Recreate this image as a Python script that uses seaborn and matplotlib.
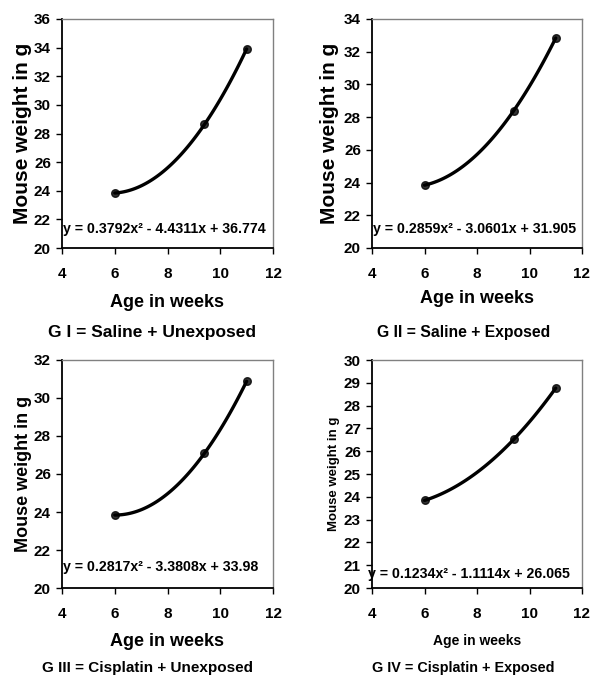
import matplotlib
matplotlib.use('Agg')
import matplotlib.pyplot as plt
import seaborn as sns

# data: age (weeks) and mouse weight (g) per group

age = [6, 9.4, 11]

weight_g1 = [23.84, 28.63, 33.91]
weight_g2 = [23.84, 28.40, 32.84]
weight_g3 = [23.84, 27.09, 30.88]
weight_g4 = [23.84, 26.52, 28.77]

equations = [
    'y = 0.3792x\u00b2 - 4.4311x + 36.774',
    'y = 0.2859x\u00b2 - 3.0601x + 31.905',
    'y = 0.2817x\u00b2 - 3.3808x + 33.98',
    'y = 0.1234x\u00b2 - 1.1114x + 26.065',
]

captions = [
    'G I = Saline + Unexposed',
    'G II = Saline + Exposed',
    'G III = Cisplatin + Unexposed',
    'G IV = Cisplatin + Exposed',
]

y_ranges = [(20, 36, 2), (20, 34, 2), (20, 32, 2), (20, 30, 1)]

sns.set_style('ticks')
plt.rcParams['font.family'] = ['Liberation Sans', 'DejaVu Sans']
plt.rcParams['font.weight'] = 'bold'
plt.rcParams['text.color'] = 'black'
plt.rcParams['axes.labelcolor'] = 'black'
plt.rcParams['xtick.color'] = 'black'
plt.rcParams['ytick.color'] = 'black'

W, H = 590, 677
fig = plt.figure(figsize=(W / 100, H / 100), dpi=100)


def px_axes(left, top, right, bottom):
    return fig.add_axes([left / W, 1 - bottom / H, (right - left) / W, (bottom - top) / H])


panels = [
    # axes box, equation pos, label sizes, caption pos/size
    dict(box=(62, 19, 273, 248), eq=(4.02, 21.35), yl=15, ypad=1, xl=13, xpad=9,
         cap=(152, 333), cs=12.5, w=weight_g1),
    dict(box=(372, 19, 582, 248), eq=(4.02, 21.15), yl=15, ypad=3.5, xl=13, xpad=6,
         cap=(464, 332), cs=11.3, w=weight_g2),
    dict(box=(62, 360, 273, 588), eq=(4.02, 21.1), yl=13, ypad=1.5, xl=13, xpad=8,
         cap=(148, 668), cs=11.0, w=weight_g3),
    dict(box=(372, 360, 582, 588), eq=(3.86, 20.6), yl=9.5, ypad=3, xl=10, xpad=9,
         cap=(463, 668), cs=10.4, w=weight_g4),
]

for i, p in enumerate(panels):
    ax = px_axes(*p['box'])
    sns.regplot(
        x=age,
        y=p['w'],
        order=2,
        ci=None,
        color='black',
        scatter_kws={'s': 30, 'zorder': 3},
        line_kws={'lw': 2.4},
        ax=ax,
    )
    lo, hi, step = y_ranges[i]
    ax.set_ylim(lo, hi)
    ax.set_yticks(range(lo, hi + 1, step))
    ax.set_xlim(4, 12)
    ax.set_xticks([4, 6, 8, 10, 12])
    ax.tick_params(axis='both', labelsize=11, length=4, width=1, direction='out', color='black')
    ax.tick_params(axis='x', pad=10)
    ax.tick_params(axis='y', pad=4)
    for lab in ax.get_xticklabels() + ax.get_yticklabels():
        lab.set_fontweight('bold')

    for side in ['left', 'bottom']:
        ax.spines[side].set_color('black')
        ax.spines[side].set_linewidth(1.3)
    for side in ['top', 'right']:
        ax.spines[side].set_visible(True)
        ax.spines[side].set_color('#808080')
        ax.spines[side].set_linewidth(1.0)

    ax.set_ylabel('Mouse weight in g', fontsize=p['yl'], fontweight='bold', labelpad=p['ypad'])
    ax.set_xlabel('Age in weeks', fontsize=p['xl'], fontweight='bold', labelpad=p['xpad'])

    ex, ey = p['eq']
    ax.text(ex, ey, equations[i], fontsize=10.2, fontweight='bold',
            ha='left', va='center', zorder=4, clip_on=False)

    cx, cy = p['cap']
    fig.text(cx / W, 1 - cy / H, captions[i], fontsize=p['cs'], fontweight='bold',
             ha='center', va='center')

fig.savefig('out.png', dpi=100)
plt.close(fig)
